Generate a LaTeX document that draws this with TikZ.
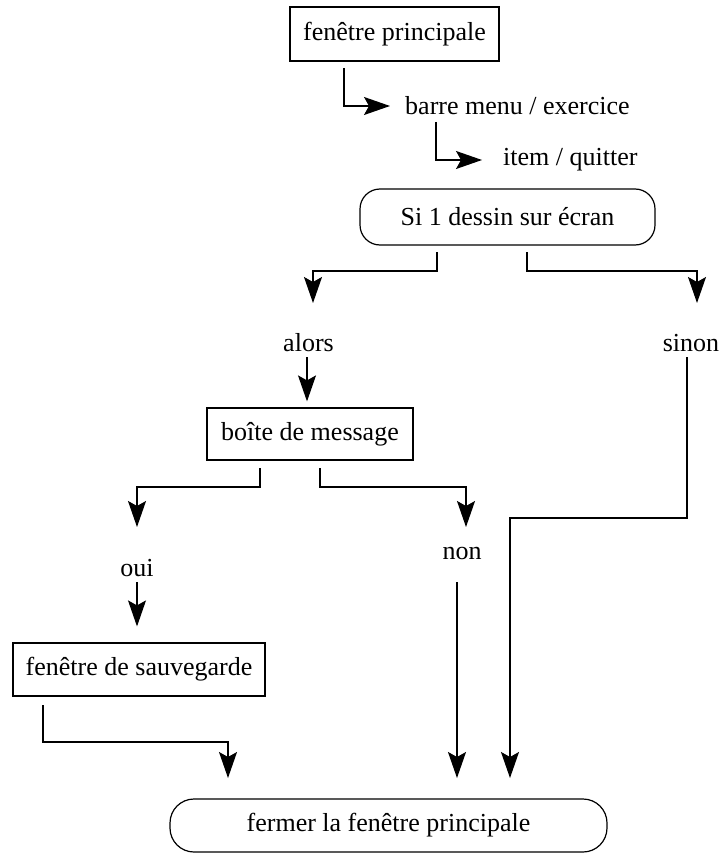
\documentclass[tikz,border=0pt]{standalone}
\usepackage{fontspec}
\setmainfont{Liberation Serif}
\usetikzlibrary{arrows.meta}
\begin{document}
\begin{tikzpicture}[x=1pt,y=-1pt,
  txt/.style={font=\fontsize{26pt}{30pt}\selectfont, inner sep=0pt},
  sqbox/.style={draw, line width=1.2pt, font=\fontsize{26pt}{30pt}\selectfont, inner sep=0pt},
  rbox/.style={draw, line width=1.2pt, rounded corners=20pt, font=\fontsize{26pt}{30pt}\selectfont, inner sep=0pt},
  arr/.style={line width=1.1pt, -{Stealth[length=26pt,width=18pt,inset=5pt]}}
]
\path[use as bounding box] (0,0) rectangle (725,853);

% nodes
\node[sqbox, minimum width=209pt, minimum height=54pt] (fp) at (394.5,34) {fenêtre principale};
\node[txt, anchor=west] (barre) at (405,106) {barre menu / exercice};
\node[txt, anchor=west] (item) at (503,160) {item / quitter};
\node[rbox, minimum width=295pt, minimum height=56pt] (si) at (507.5,217) {Si 1 dessin sur écran};
\node[txt] (alors) at (308.5,343) {alors};
\node[txt] (sinon) at (691,343) {sinon};
\node[sqbox, minimum width=206pt, minimum height=52pt] (boite) at (310,434) {boîte de message};
\node[txt] (oui) at (137,568) {oui};
\node[txt] (non) at (462,553) {non};
\node[sqbox, minimum width=252pt, minimum height=53pt] (sauv) at (139,669.5) {fenêtre de sauvegarde};
\node[rbox, rounded corners=24pt, minimum width=437pt, minimum height=53pt] (fermer) at (388.5,825.5) {fermer la fenêtre principale};

% connector end points
\coordinate (fpout) at (344,68);
\coordinate (barreout) at (436,122);
\coordinate (sil) at (437,252);
\coordinate (sir) at (527,252);
\coordinate (alorsin) at (313,303);
\coordinate (sinonin) at (697,303);
\coordinate (alorsout) at (307,357);
\coordinate (sinonout) at (687,357);
\coordinate (boitel) at (260,468);
\coordinate (boiter) at (320,468);
\coordinate (ouiin) at (137,527);
\coordinate (nonin) at (466,527);
\coordinate (ouiout) at (137,582);
\coordinate (nonout) at (457,582);
\coordinate (sauvout) at (43,705);
\coordinate (f1) at (228,778);
\coordinate (f2) at (457,778);
\coordinate (f3) at (510,778);

% connectors
\draw[arr] (fpout) |- ([xshift=-15pt]barre.west);
\draw[arr] (barreout) |- ([xshift=-21pt]item.west);
\draw[arr] (sil) -- ++(0,19) -| (alorsin);
\draw[arr] (sir) -- ++(0,19) -| (sinonin);
\draw[arr, shorten >=6pt] (alorsout) -- (alorsout |- boite.north);
\draw[arr] (boitel) -- ++(0,19) -| (ouiin);
\draw[arr] (boiter) -- ++(0,19) -| (nonin);
\draw[arr, shorten >=16pt] (ouiout) -- (ouiout |- sauv.north);
\draw[arr] (nonout) -- (f2);
\draw[arr] (sinonout) -- ++(0,161) -| (f3);
\draw[arr] (sauvout) -- ++(0,37) -| (f1);
\end{tikzpicture}
\end{document}
